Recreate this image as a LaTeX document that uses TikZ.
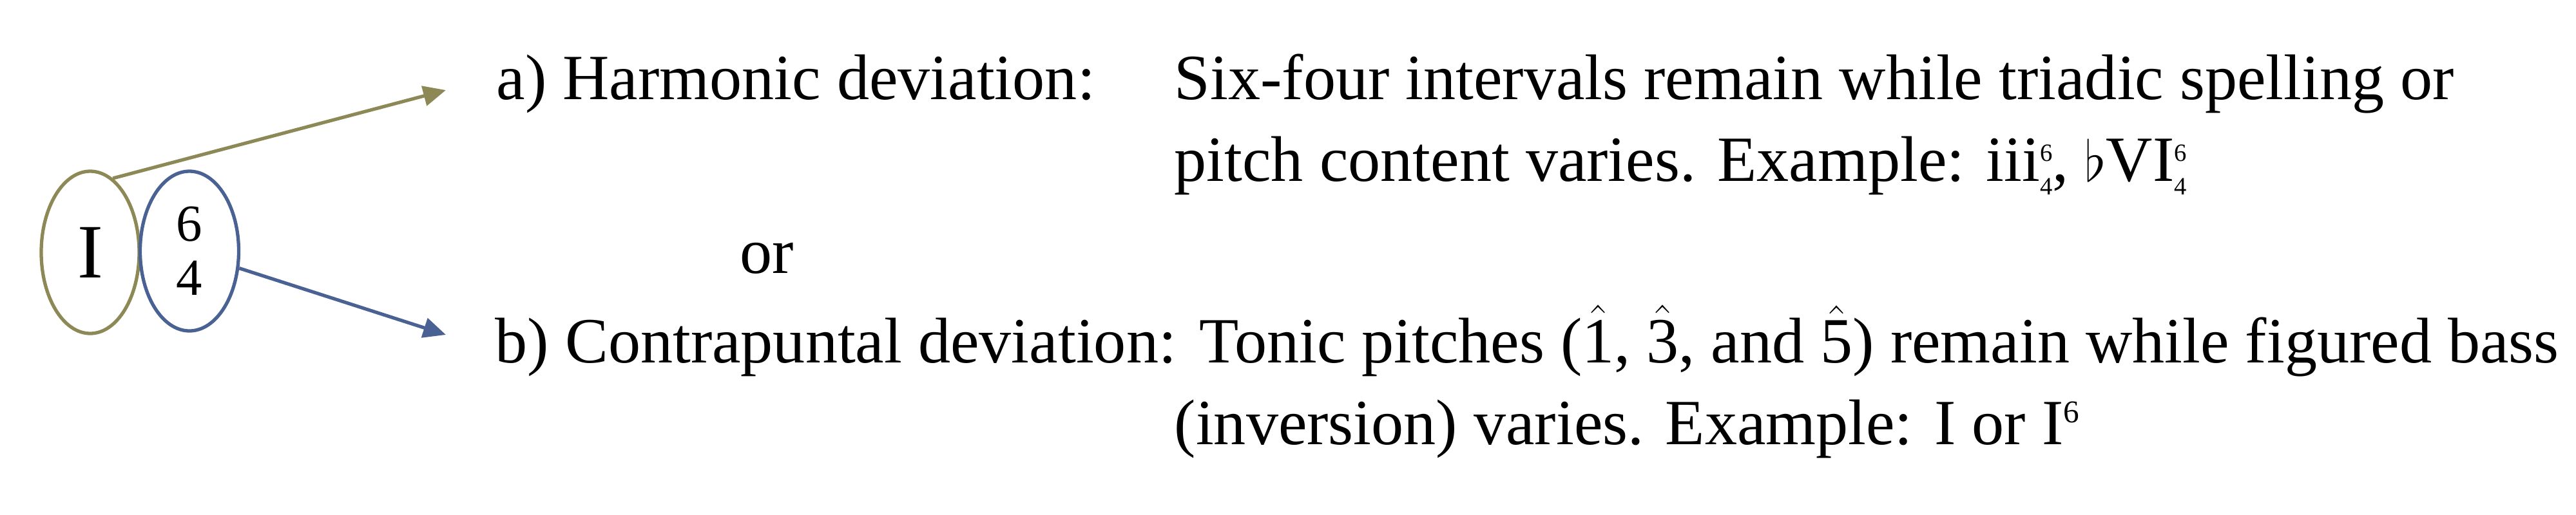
\documentclass[tikz,border=0pt]{standalone}
\usepackage{fontspec}
\setmainfont{Liberation Serif}
\usetikzlibrary{arrows.meta,shapes.geometric}
\definecolor{tonicolive}{RGB}{141,137,87}
\definecolor{figblue}{RGB}{73,97,147}
\newcommand\figsf[2]{{\fontsize{11}{11}\selectfont\rlap{\raisebox{8.8pt}{#1}}\raisebox{-6.2pt}{#2}}}
\newcommand\figsup[1]{{\raisebox{9.4pt}{\fontsize{14}{14}\selectfont #1}}}
\newcommand\sdeg[1]{$\hat{\mbox{#1}}$}
\begin{document}
\begin{tikzpicture}[x=1cm,y=-1cm,
  txt/.style={anchor=base west,inner sep=0pt,font=\fontsize{28.5}{34}\selectfont},
  ring/.style={ellipse,draw,line width=1.5pt,inner sep=0pt},
  link/.style={line width=1.5pt,-{Triangle[length=0.35cm,width=0.31cm]}}]
\useasboundingbox (0,0) rectangle (39.98,7.99);
\node[ring,draw=tonicolive,minimum width=1.52cm,minimum height=2.52cm,font=\fontsize{34}{34}\selectfont] (tonic) at (1.40,3.92) {I};
\node[ring,draw=figblue,minimum width=1.53cm,minimum height=2.48cm,align=center,font=\fontsize{23}{24}\selectfont] (sixfour) at (2.94,3.90) {6\\4};
\coordinate (atip) at (6.92,1.40);
\coordinate (btip) at (6.92,5.20);
\draw[link,tonicolive] (tonic.73) -- (atip);
\draw[link,figblue] (sixfour.-19) -- (btip);
\node[txt] (alab) at (7.70,1.54) {a) Harmonic deviation:};
\node[txt] (adesc1) at (18.22,1.54) {Six-four intervals remain while triadic spelling or};
\node[txt] (adesc2) at (18.22,2.81) {pitch content varies. Example: iii\figsf{6}{4}, $\flat$VI\figsf{6}{4}};
\node[txt] (ortext) at (11.48,4.24) {or};
\node[txt] (blab) at (7.68,5.63) {b) Contrapuntal deviation:};
\node[txt] (bdesc1) at (18.61,5.63) {Tonic pitches (\sdeg{1}, \sdeg{3}, and \sdeg{5}) remain while figured bass};
\node[txt] (bdesc2) at (18.22,6.90) {(inversion) varies. Example: I or I\figsup{6}};
\end{tikzpicture}
\end{document}
